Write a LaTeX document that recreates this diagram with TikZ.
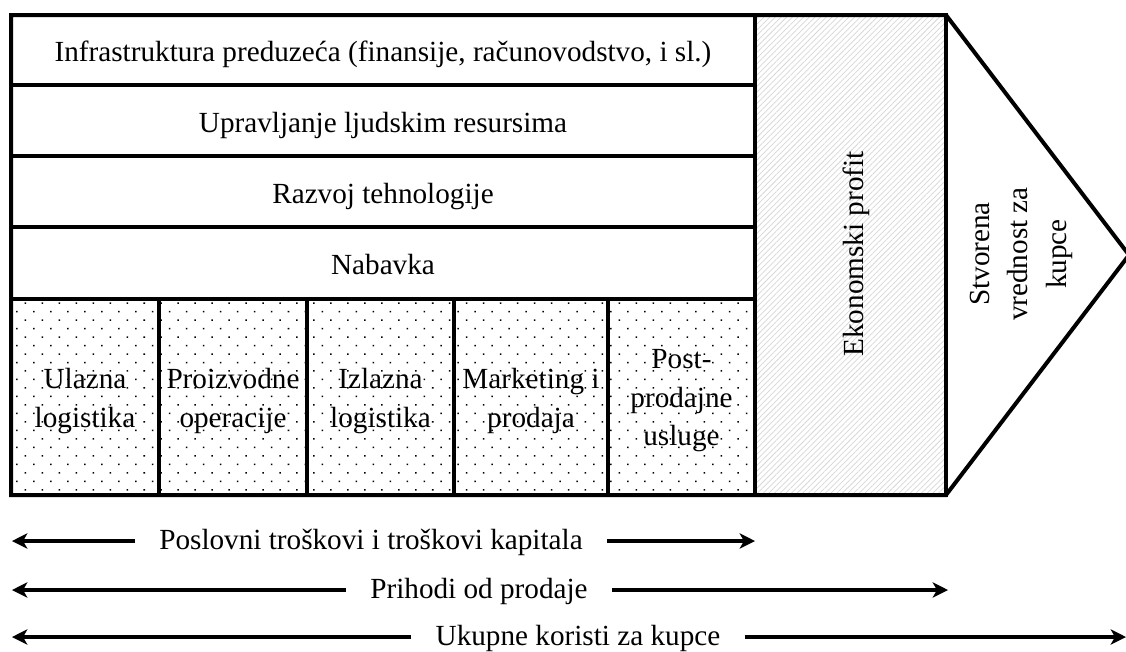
\documentclass[tikz,border=0pt]{standalone}
\usepackage{fontspec}
\setmainfont{Liberation Serif}
\usetikzlibrary{patterns.meta,arrows.meta}
\begin{document}
\begin{tikzpicture}[x=0.75pt,y=-0.75pt,
  frame/.style={line width=3pt, line join=miter, line cap=rect},
  lbl/.style={font=\fontsize{21.9}{28.9}\selectfont, inner sep=0pt, align=center},
  spanlbl/.style={font=\fontsize{21.9}{28.9}\selectfont, inner ysep=0pt, inner xsep=18pt, anchor=base},
  span/.style={line width=2.6pt, -{Stealth[length=11.5pt,width=11.5pt,inset=3.2pt]}},
]
\useasboundingbox (0,0) rectangle (1126,651);

% economic profit column: light diagonal hatching
\fill[pattern={Lines[angle=45,distance=3pt,line width=0.55pt]}, pattern color=black!16]
  (755,15) rectangle (946,495);
% primary activities: dotted background
\fill[pattern={Dots[angle=45,distance=9pt,radius=0.8pt]}, pattern color=black]
  (11,299) rectangle (755,495);

% outer outline with the value arrow head
\draw[frame] (11,15) -- (946,15) -- (1129,255) -- (946,495) -- (11,495) -- cycle;
\draw[frame] (755,15) -- (755,495);
\draw[frame] (946,15) -- (946,495);
% support activity rows
\foreach \yy in {85,156,227,299} \draw[frame] (11,\yy) -- (755,\yy);
% primary activity columns
\foreach \xx in {159,307,454,608} \draw[frame] (\xx,299) -- (\xx,495);

% support activities
\node[lbl, anchor=base] (infra) at (383,61.5) {Infrastruktura preduzeća (finansije, računovodstvo, i sl.)};
\node[lbl, anchor=base] (hrm)   at (383,132)  {Upravljanje ljudskim resursima};
\node[lbl, anchor=base] (tech)  at (383,203)  {Razvoj tehnologije};
\node[lbl, anchor=base] (proc)  at (383,274.5){Nabavka};

% primary activities
\node[lbl] (inlog)  at (85,401)    {Ulazna\\logistika};
\node[lbl] (ops)    at (233,401)   {Proizvodne\\operacije};
\node[lbl] (outlog) at (380.5,401) {Izlazna\\logistika};
\node[lbl] (mkt)    at (531,401)   {Marketing i\\prodaja};
\node[lbl] (serv)   at (681.5,401) {Post-\\prodajne\\usluge};

% margin and customer value
\node[lbl, rotate=90, anchor=base] (profit) at (863,254) {Ekonomski profit};
\node[lbl, rotate=90] (value) at (1021,254) {Stvorena\\vrednost za\\kupce};

% extents below the chain
\coordinate (c1l) at (12,541);   \coordinate (c1r) at (755,541);
\coordinate (c2l) at (12,590);   \coordinate (c2r) at (948,590);
\coordinate (c3l) at (12,637);   \coordinate (c3r) at (1126,637);

\node[spanlbl] (cost)    at (371,549.5) {Poslovni troškovi i troškovi kapitala};
\node[spanlbl] (revenue) at (479,598.5) {Prihodi od prodaje};
\node[spanlbl] (benefit) at (578,645.5) {Ukupne koristi za kupce};

\draw[span] (cost.west |- c1l) -- (c1l);
\draw[span] (cost.east |- c1r) -- (c1r);
\draw[span] (revenue.west |- c2l) -- (c2l);
\draw[span] (revenue.east |- c2r) -- (c2r);
\draw[span] (benefit.west |- c3l) -- (c3l);
\draw[span] (benefit.east |- c3r) -- (c3r);
\end{tikzpicture}
\end{document}
